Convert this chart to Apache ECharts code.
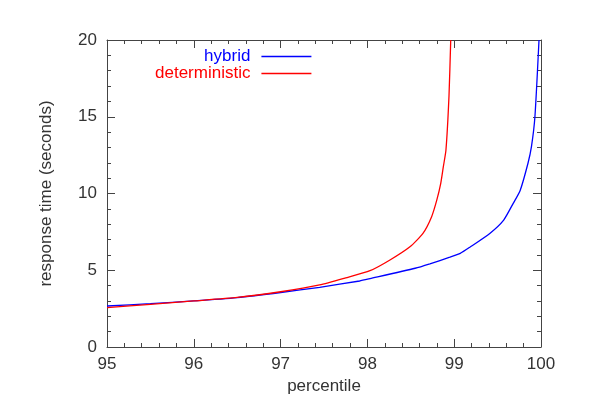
<!DOCTYPE html>
<html><head><meta charset="utf-8">
<script src="https://cdn.jsdelivr.net/npm/echarts@6/dist/echarts.min.js"></script>
<style>html,body{margin:0;padding:0;background:#fff}#c{width:600px;height:420px}</style>
</head><body><div id="c"></div>
<script>
const hybridX = [95.0, 95.5, 96.0, 96.5, 97.0, 97.45, 97.91, 98.03, 98.55, 98.72, 98.95, 99.07, 99.18, 99.41, 99.57, 99.68, 99.76, 99.85, 99.89, 99.93, 99.977];
const hybridY = [2.67, 2.82, 3.0, 3.22, 3.55, 3.89, 4.3, 4.45, 5.13, 5.42, 5.85, 6.1, 6.5, 7.4, 8.27, 9.36, 10.2, 11.97, 13.05, 15.0, 20.0];
const detX = [95.0, 95.5, 96.0, 96.5, 97.0, 97.45, 97.75, 98.03, 98.26, 98.49, 98.64, 98.74, 98.80, 98.845, 98.875, 98.905, 98.94, 98.96];
const detY = [2.56, 2.78, 3.0, 3.23, 3.6, 4.04, 4.5, 4.97, 5.67, 6.53, 7.4, 8.49, 9.58, 10.66, 11.75, 12.83, 16.35, 20.0];
const seriesNames = ['hybrid', 'deterministic'];
const seriesColors = ['#0000ff', '#ff0000'];
const xTicks = [95, 96, 97, 98, 99, 100];
const yTicks = [0, 5, 10, 15, 20];

const pair = (xs, ys) => xs.map((x, i) => [x, ys[i]]);
const font = 'Liberation Sans, Helvetica, Arial, sans-serif';
const axisCol = '#444';
const textCol = '#333';
function mkX(pos, labels, col) {
  return {
    type: 'value', position: pos, min: xTicks[0], max: xTicks[xTicks.length-1], interval: 1,
    axisLine: {show: true, onZero: false, lineStyle: {color: col, width: 1}},
    axisTick: {show: true, inside: true, length: 8, lineStyle: {color: col}},
    minorTick: {show: true, splitNumber: 5, length: 4, lineStyle: {color: col}},
    splitLine: {show: false},
    axisLabel: {show: labels, color: textCol, fontSize: 17, fontFamily: font, margin: 9},
    name: labels ? 'percentile' : null, nameLocation: 'middle', nameGap: 30,
    nameTextStyle: {color: textCol, fontSize: 17, fontFamily: font}
  };
}
function mkY(pos, labels, col) {
  return {
    type: 'value', position: pos, min: yTicks[0], max: yTicks[yTicks.length-1], interval: 5,
    axisLine: {show: true, onZero: false, lineStyle: {color: col, width: 1}},
    axisTick: {show: true, inside: true, length: 8, lineStyle: {color: col}},
    minorTick: {show: true, splitNumber: 5, length: 4, lineStyle: {color: col}},
    splitLine: {show: false},
    axisLabel: {show: labels, color: textCol, fontSize: 17, fontFamily: font, margin: 10},
    name: labels ? 'response time (seconds)' : null, nameLocation: 'middle', nameGap: 52,
    nameTextStyle: {color: textCol, fontSize: 17, fontFamily: font}
  };
}
const chart = echarts.init(document.getElementById('c'));
chart.setOption({
  animation: false,
  backgroundColor: '#fff',
  grid: {left: 107, right: 59, top: 40, bottom: 73},
  xAxis: [mkX('bottom', true, axisCol), mkX('top', false, axisCol)],
  yAxis: [mkY('left', true, axisCol), mkY('right', false, axisCol)],
  legend: {
    orient: 'vertical', left: 155, top: 48, align: 'right', padding: 0,
    itemWidth: 50, itemHeight: 1.5, itemGap: 0, icon: 'rect',
    data: seriesNames.map((n, i) => ({name: n, textStyle: {color: seriesColors[i], fontSize: 17, fontFamily: font, lineHeight: 17, padding: [0, 6, 0, 0]}}))
  },
  series: [
    {name: seriesNames[0], type: 'line', data: pair(hybridX, hybridY), showSymbol: false, symbol: 'none', smooth: 0.2,
     lineStyle: {color: seriesColors[0], width: 1.3}, itemStyle: {color: seriesColors[0]}},
    {name: seriesNames[1], type: 'line', data: pair(detX, detY), showSymbol: false, symbol: 'none', smooth: 0.2,
     lineStyle: {color: seriesColors[1], width: 1.3}, itemStyle: {color: seriesColors[1]}},
    {name: 'frame', type: 'line', xAxisIndex: 1, yAxisIndex: 1, data: pair(detX, detY), symbol: 'none', silent: true,
     lineStyle: {opacity: 0}, itemStyle: {opacity: 0}}
  ]
});
</script></body></html>
